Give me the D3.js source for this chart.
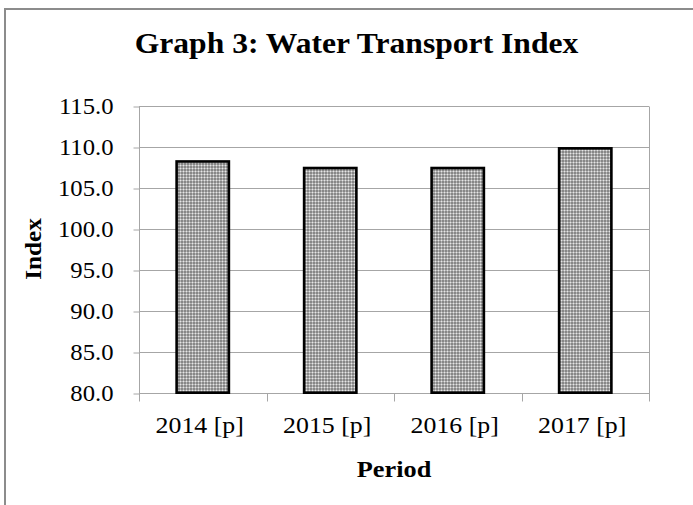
<!DOCTYPE html>
<html>
<head>
<meta charset="utf-8">
<script src="https://cdn.jsdelivr.net/npm/d3@7"></script>
<style>
  html, body { margin: 0; padding: 0; background: #fff; }
  svg { display: block; }
  text { font-family: "Liberation Serif", "Times New Roman", serif; fill: #000; }
</style>
</head>
<body>
<svg id="chart" width="693" height="505"></svg>
<script>
const categories = ["2014 [p]", "2015 [p]", "2016 [p]", "2017 [p]"];
const values = [108.2, 107.4, 107.4, 109.8];
const yTicks = [80, 85, 90, 95, 100, 105, 110, 115];
const title = "Graph 3: Water Transport Index";
const xTitle = "Period";
const yTitle = "Index";

const svg = d3.select("#chart");
const W = 693, H = 505;
const m = { left: 139, right: 649, top: 105.7, bottom: 392.7 };

// pattern
const defs = svg.append("defs");
const pat = defs.append("pattern").attr("id", "dots")
  .attr("patternUnits", "userSpaceOnUse").attr("width", 3).attr("height", 3);
pat.append("rect").attr("width", 3).attr("height", 3).attr("fill", "#878787");
pat.append("rect").attr("x", 0).attr("y", 0).attr("width", 3).attr("height", 1).attr("fill", "#b4b4b4");
pat.append("rect").attr("x", 0).attr("y", 0).attr("width", 1).attr("height", 3).attr("fill", "#b4b4b4");
pat.append("rect").attr("x", 0).attr("y", 0).attr("width", 1).attr("height", 1).attr("fill", "#e6e6e6");

// outer border
svg.append("rect").attr("x", 5).attr("y", 9).attr("width", W + 20).attr("height", H + 20)
  .attr("fill", "none").attr("stroke", "#8c8c8c").attr("stroke-width", 2);

const x = d3.scaleBand().domain(categories).range([m.left, m.right]).paddingInner(0).paddingOuter(0);
const y = d3.scaleLinear().domain([80, 115]).range([m.bottom, m.top]);

// gridlines
svg.append("g").selectAll("line").data(yTicks.slice(1)).join("line")
  .attr("x1", m.left).attr("x2", m.right)
  .attr("y1", d => Math.round(y(d)) + 0.5).attr("y2", d => Math.round(y(d)) + 0.5)
  .attr("stroke", "#a6a6a6").attr("stroke-width", 1);

// right border of plot
svg.append("line").attr("x1", m.right + 0.5).attr("x2", m.right + 0.5)
  .attr("y1", Math.round(y(115)) + 0.5).attr("y2", Math.round(y(80)) + 8)
  .attr("stroke", "#a6a6a6");

// y axis
const yAxis = d3.axisLeft(y).tickValues(yTicks).tickFormat(d3.format(".1f")).tickSize(6).tickPadding(19);
const gy = svg.append("g").attr("transform", `translate(${m.left + 0.5},0.5)`).call(yAxis);
gy.select(".domain").attr("stroke", "#a6a6a6").attr("d", `M0,${Math.round(y(115))}V${Math.round(y(80))}`);
gy.selectAll(".tick line").attr("stroke", "#a6a6a6").attr("transform", d => `translate(0,${Math.round(y(d)) - y(d)})`);
gy.selectAll(".tick text").attr("font-size", "23.5px").attr("fill", "#000")
  .attr("x", 0).attr("dy", "0.33em")
  .attr("transform", `translate(-26,0) scale(1.05,1)`);

// x axis
const xAxis = d3.axisBottom(x).tickSize(0).tickPadding(0);
const gx = svg.append("g").attr("transform", `translate(0,${Math.round(y(80)) + 0.5})`).call(xAxis);
gx.select(".domain").attr("stroke", "#a6a6a6").attr("d", `M${m.left},0H${m.right}`);
gx.selectAll(".tick text").attr("font-size", "23.5px").attr("fill", "#000")
  .attr("y", 0).attr("dy", 0)
  .attr("transform", `translate(-3,39) scale(1.1,1)`);
// boundary ticks
const bounds = categories.map(c => x(c)).concat([m.right]);
gx.append("g").selectAll("line").data(bounds).join("line")
  .attr("x1", d => Math.round(d) + 0.5).attr("x2", d => Math.round(d) + 0.5)
  .attr("y1", 0).attr("y2", 8).attr("stroke", "#a6a6a6");

// bars
const bw = x.bandwidth() * 0.41;
svg.append("g").selectAll("rect").data(values).join("rect")
  .attr("x", (d, i) => x(categories[i]) + x.bandwidth() / 2 - bw / 2)
  .attr("width", bw)
  .attr("y", d => y(d))
  .attr("height", d => y(80) - y(d))
  .attr("fill", "url(#dots)")
  .attr("stroke", "#000").attr("stroke-width", 2.6);

// titles
svg.append("text").attr("transform", "translate(356.5,53) scale(1.09,1)").attr("text-anchor", "middle")
  .attr("font-size", "29px").attr("font-weight", "bold").text(title);
svg.append("text").attr("transform", "translate(394,477) scale(1.12,1)").attr("text-anchor", "middle")
  .attr("font-size", "23.5px").attr("font-weight", "bold").text(xTitle);
svg.append("text").attr("transform", "translate(41,249) rotate(-90) scale(1.07,1)").attr("text-anchor", "middle")
  .attr("font-size", "23.5px").attr("font-weight", "bold").text(yTitle);
</script>
</body>
</html>
